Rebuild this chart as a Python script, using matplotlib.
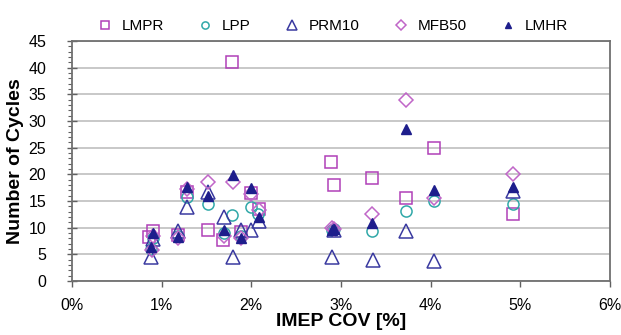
import matplotlib
matplotlib.use("Agg")
import matplotlib.pyplot as plt
from matplotlib.ticker import MultipleLocator, FuncFormatter

plt.rcParams['font.family'] = ['Liberation Sans', 'DejaVu Sans']

# IMEP COV [%] and number of cycles, per series
lmpr_x = [0.86, 0.90, 1.18, 1.28, 1.52, 1.68, 1.79, 1.89, 2.00, 2.09, 2.89, 2.92, 3.35, 3.73, 4.04, 4.92]
lmpr_y = [8.3, 9.3, 8.6, 16.7, 9.5, 7.7, 41.0, 9.1, 16.5, 13.5, 22.3, 18.0, 19.3, 15.5, 25.0, 12.5]

lpp_x = [0.88, 0.90, 1.18, 1.28, 1.52, 1.70, 1.79, 1.89, 2.00, 2.07, 2.90, 2.92, 3.35, 3.73, 4.04, 4.92]
lpp_y = [6.0, 8.0, 8.5, 15.8, 14.5, 9.0, 12.3, 8.5, 13.9, 12.5, 9.6, 9.8, 9.4, 13.2, 15.0, 14.5]

prm10_x = [0.88, 0.90, 1.18, 1.28, 1.52, 1.69, 1.80, 1.89, 2.00, 2.09, 2.90, 2.92, 3.36, 3.73, 4.04, 4.92]
prm10_y = [4.5, 7.8, 9.3, 13.9, 16.6, 12.0, 4.6, 9.6, 9.6, 11.3, 4.5, 9.6, 4.0, 9.4, 3.8, 16.8]

mfb50_x = [0.89, 0.90, 1.18, 1.28, 1.52, 1.69, 1.80, 1.89, 2.00, 2.09, 2.90, 2.92, 3.35, 3.73, 4.04, 4.92]
mfb50_y = [5.8, 8.5, 8.0, 17.3, 18.6, 8.4, 18.5, 8.0, 16.3, 13.4, 10.0, 9.8, 12.6, 34.0, 15.6, 20.0]

lmhr_x = [0.88, 0.90, 1.18, 1.28, 1.52, 1.69, 1.80, 1.89, 2.00, 2.09, 2.90, 2.92, 3.35, 3.73, 4.04, 4.92]
lmhr_y = [6.3, 9.0, 8.2, 17.6, 15.9, 9.5, 19.9, 8.1, 17.5, 12.0, 9.5, 9.8, 10.9, 28.5, 17.1, 17.6]

fig = plt.figure(figsize=(6.21, 3.35), dpi=100)
ax = fig.add_axes([0.116, 0.161, 0.866, 0.717])

ax.plot(lmpr_x, lmpr_y, 's', ms=8, mfc='none', mec='#b040b8', mew=1.1, label='LMPR')
ax.plot(lpp_x, lpp_y, 'o', ms=8, mfc='none', mec='#30a8a8', mew=1.1, label='LPP')
ax.plot(prm10_x, prm10_y, '^', ms=10, mfc='none', mec='#3a3aa0', mew=1.1, label='PRM10')
ax.plot(mfb50_x, mfb50_y, 'D', ms=7.5, mfc='none', mec='#c066c8', mew=1.1, label='MFB50')
ax.plot(lmhr_x, lmhr_y, '^', ms=7.5, mfc='#1e1e8c', mec='#1e1e8c', label='LMHR')

ax.set_xlim(0, 6)
ax.set_ylim(0, 45)
ax.xaxis.set_major_locator(MultipleLocator(1))
ax.xaxis.set_major_formatter(FuncFormatter(lambda v, p: '%d%%' % round(v)))
ax.yaxis.set_major_locator(MultipleLocator(5))
ax.yaxis.set_minor_locator(MultipleLocator(1))
ax.tick_params(axis='y', which='major', direction='inout', length=7, width=1,
               color='#606060', labelsize=11.5, pad=15)
ax.tick_params(axis='y', which='minor', direction='out', length=3, width=0.8, color='#606060')
ax.tick_params(axis='x', which='major', direction='out', length=4, width=1,
               color='#606060', labelsize=11.5, pad=8)
ax.grid(axis='y', which='major', color='#c4c4c4', lw=1.3)
ax.set_axisbelow(True)
for s in ax.spines.values():
    s.set_color('#707070')
    s.set_linewidth(1.3)

ax.set_ylabel('Number of Cycles', fontsize=14, fontweight='bold', labelpad=3)
ax.set_xlabel('IMEP COV [%]', fontsize=14, fontweight='bold', labelpad=0)

leg = ax.legend(loc='lower center', bbox_to_anchor=(0.485, 1.0), ncol=5, frameon=False,
                fontsize=11, markerscale=0.65, handlelength=1.0, handletextpad=0.6,
                columnspacing=2.2, borderaxespad=0.1)

fig.savefig('out.png', dpi=100)
